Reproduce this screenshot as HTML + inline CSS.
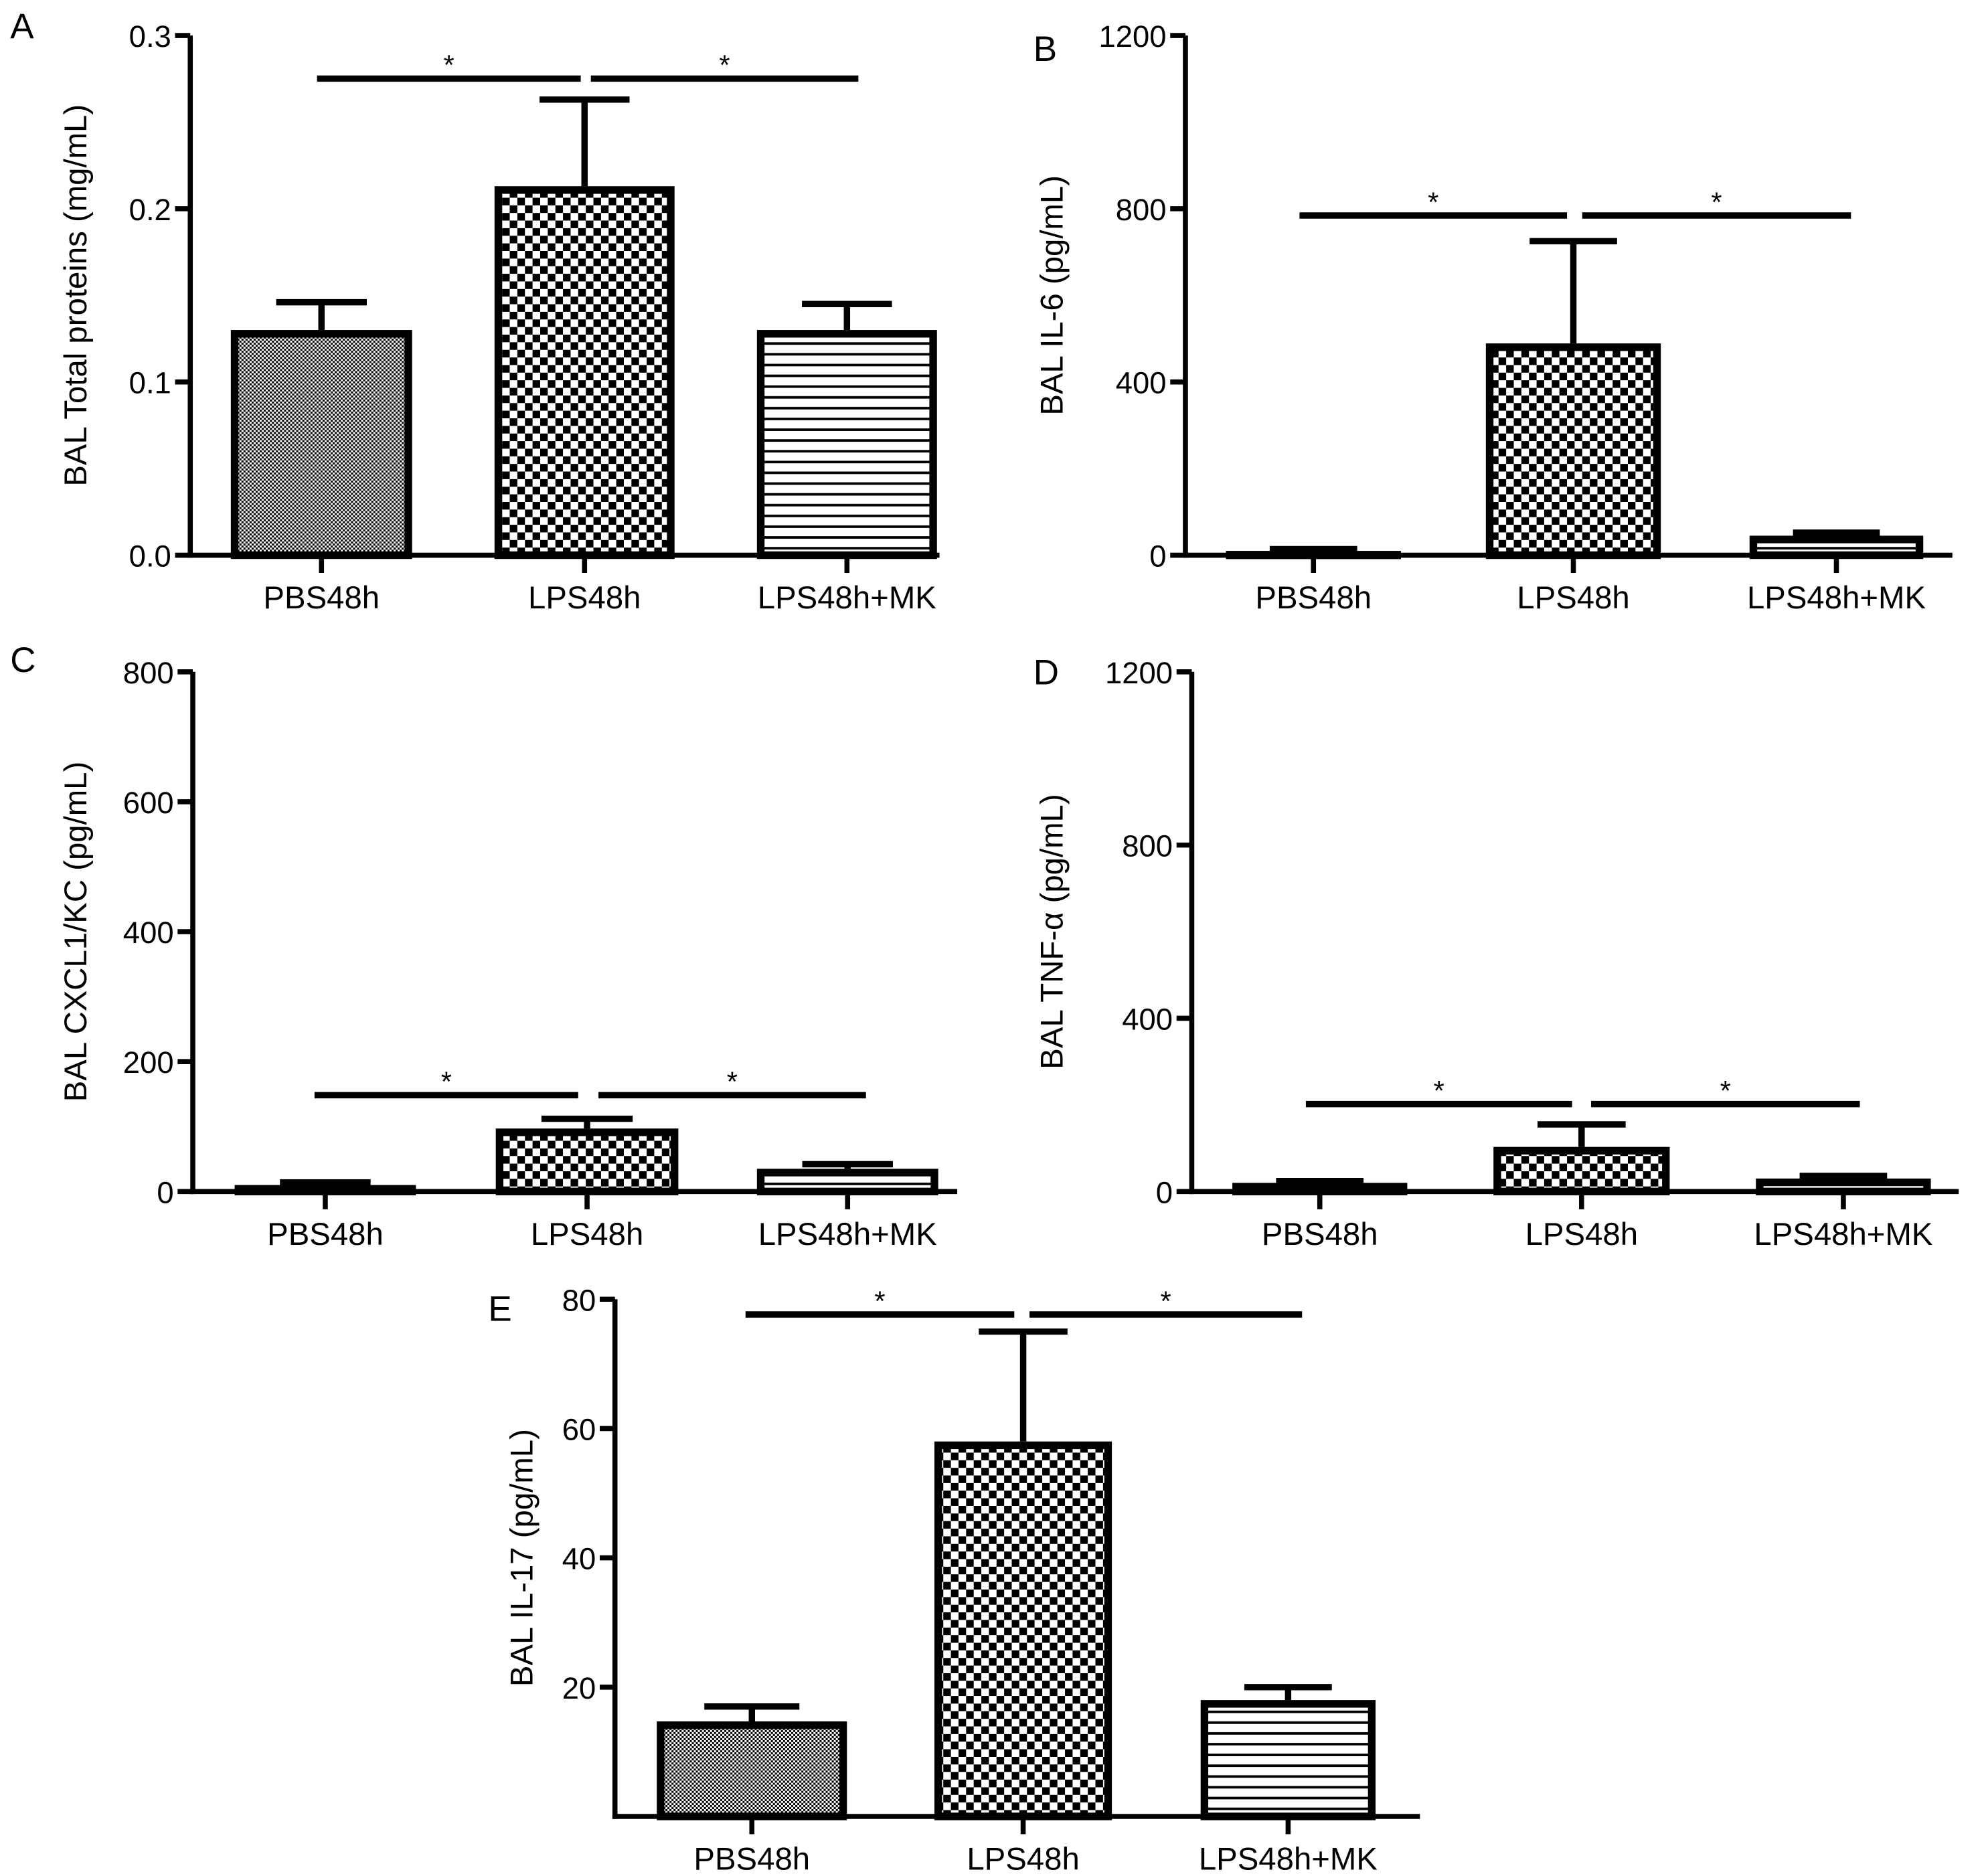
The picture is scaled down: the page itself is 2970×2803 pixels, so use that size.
<!DOCTYPE html>
<html><head><meta charset="utf-8"><style>
html,body{margin:0;padding:0;background:#fff;}
svg{display:block;font-family:"Liberation Sans",Arial,sans-serif;}
</style></head><body>
<svg id="fig" width="2970" height="2803" viewBox="0 0 1568 1480" xmlns="http://www.w3.org/2000/svg">
<defs>
<pattern id="pFine" width="3.2" height="3.2" patternUnits="userSpaceOnUse"><rect width="3.2" height="3.2" fill="#fff"/><rect width="1.6" height="1.6" fill="#000"/><rect x="1.6" y="1.6" width="1.6" height="1.6" fill="#000"/></pattern>
<pattern id="pCheck" width="12" height="12" patternUnits="userSpaceOnUse"><rect width="12" height="12" fill="#fff"/><rect width="6" height="6" fill="#000"/><rect x="6" y="6" width="6" height="6" fill="#000"/></pattern>
<pattern id="pLines" width="8.5" height="8.5" patternUnits="userSpaceOnUse"><rect width="8.5" height="8.5" fill="#fff"/><rect y="6.5" width="8.5" height="2" fill="#000"/></pattern>
</defs>
</svg>
<script>
var categories = ["PBS48h","LPS48h","LPS48h+MK"];
var valuesA = [0.13, 0.213, 0.13];
var errorsA = [0.146, 0.263, 0.145];
var ticksA = [0, 0.1, 0.2, 0.3];
var tickLabelsA = ["0.0","0.1","0.2","0.3"];
var valuesB = [10, 489, 45];
var errorsB = [14, 725, 52];
var ticksB = [0, 400, 800, 1200];
var valuesC = [10, 97, 35];
var errorsC = [14, 112, 42];
var ticksC = [0, 200, 400, 600, 800];
var valuesD = [20, 103, 30];
var errorsD = [24, 155, 36];
var ticksD = [0, 400, 800, 1200];
var valuesE = [14.7, 58, 18];
var errorsE = [17, 75, 20];
var ticksE = [20, 40, 60, 80];

var NS = "http://www.w3.org/2000/svg";
var svg = document.getElementById('fig');
function mk(tag, attrs, parent){var e=document.createElementNS(NS,tag);for(var k in attrs)e.setAttribute(k,attrs[k]);(parent||svg).appendChild(e);return e;}
var fills = ["url(#pFine)","url(#pCheck)","url(#pLines)"];

function panel(cfg){
  var g = mk('g',{});
  
  
  var y = function(v){return cfg.y0 - (v - 0)/(cfg.max) * (cfg.y0 - cfg.yTop);};
  // bars
  for (var i=0;i<categories.length;i++){
    var x0 = cfg.bars[i][0], x1 = cfg.bars[i][1], cx=(x0+x1)/2;
    var err = mk('line',{x1:cx,x2:cx,y1:y(cfg.vals[i]),y2:y(cfg.errs[i]),stroke:'#000','stroke-width':5},g);
    
    
    var cap = mk('line',{x1:cx-(x1-x0)*0.25,x2:cx+(x1-x0)*0.25,y1:y(cfg.errs[i]),y2:y(cfg.errs[i]),stroke:'#000','stroke-width':5},g);
    
    
    var top=y(cfg.vals[i]);
    var r = mk('rect',{x:x0+3,y:top+3,width:(x1-x0)-6,height:Math.max(cfg.y0-top-3,0.5),fill:fills[i],stroke:'#000','stroke-width':6},g);
    
    
    var tk = mk('line',{x1:cx,x2:cx,y1:cfg.y0,y2:cfg.y0+14,stroke:'#000','stroke-width':4},g);
    
    
    var lb = mk('text',{x:cx,y:cfg.y0+42,'text-anchor':'middle','font-size':25},g);
    lb.textContent = categories[i];
    
    
  }
  // axes
  var ya = mk('line',{x1:cfg.ax,x2:cfg.ax,y1:cfg.yTop,y2:cfg.y0+2,stroke:'#000','stroke-width':4},g);
  
  
  var xa = mk('line',{x1:cfg.ax-2,x2:cfg.xEnd,y1:cfg.y0,y2:cfg.y0,stroke:'#000','stroke-width':4},g);
  
  
  for (var j=0;j<cfg.ticks.length;j++){
    var tv=cfg.ticks[j], ty=y(tv);
    var t = mk('line',{x1:cfg.ax-12,x2:cfg.ax,y1:ty,y2:ty,stroke:'#000','stroke-width':4},g);
    
    
    var tl = mk('text',{x:cfg.ax-15,y:ty+9,'text-anchor':'end','font-size':24},g);
    tl.textContent = cfg.tickLabels ? cfg.tickLabels[j] : String(tv);
    
    
  }
  var yl = mk('text',{x:cfg.ylx,y:(cfg.y0+cfg.yTop)/2,'text-anchor':'middle','font-size':25,transform:'rotate(-90 '+cfg.ylx+' '+((cfg.y0+cfg.yTop)/2)+')'},g);
  yl.textContent = cfg.ylabel;
  
  
  var le = mk('text',{x:cfg.lx,y:cfg.ly,'font-size':28},g);
  le.textContent = cfg.letter;
  
  
  for (var k=0;k<2;k++){
    var s=cfg.sig[k];
    var sl = mk('line',{x1:s[0],x2:s[1],y1:cfg.sigY,y2:cfg.sigY,stroke:'#000','stroke-width':5},g);
    
    
    var st = mk('text',{x:(s[0]+s[1])/2,y:cfg.sigY-3,'text-anchor':'middle','font-size':22},g);
    st.textContent = '*';
    
    
  }
}

panel({letter:'A',lx:8,ly:30,ax:150,yTop:28,y0:438,max:0.3,xEnd:741,vals:valuesA,errs:errorsA,ticks:ticksA,tickLabels:tickLabelsA,
  bars:[[182,325],[390,532],[597,739]],ylx:68,ylabel:'BAL Total proteins (mg/mL)',sigY:62,sig:[[250,458],[466,677]]});
panel({letter:'B',lx:815,ly:48,ax:935,yTop:28,y0:438,max:1200,xEnd:1540,vals:valuesB,errs:errorsB,ticks:ticksB,
  bars:[[967,1105],[1172,1310],[1380,1517]],ylx:838,ylabel:'BAL IL-6 (pg/mL)',sigY:170,sig:[[1025,1236],[1248,1460]]});
panel({letter:'C',lx:8,ly:530,ax:152,yTop:530,y0:940,max:800,xEnd:755,vals:valuesC,errs:errorsC,ticks:ticksC,
  bars:[[185,328],[391,535],[597,740]],ylx:68,ylabel:'BAL CXCL1/KC (pg/mL)',sigY:864,sig:[[248,456],[472,683]]});
panel({letter:'D',lx:815,ly:540,ax:940,yTop:530,y0:940,max:1200,xEnd:1545,vals:valuesD,errs:errorsD,ticks:ticksD,
  bars:[[972,1110],[1178,1317],[1385,1523]],ylx:838,ylabel:'BAL TNF-\u03b1 (pg/mL)',sigY:871,sig:[[1030,1240],[1255,1467]]});
panel({letter:'E',lx:385,ly:1042,ax:485,yTop:1025,y0:1433,max:80,xEnd:1120,vals:valuesE,errs:errorsE,ticks:ticksE,
  bars:[[518,668],[737,877],[947,1085]],ylx:420,ylabel:'BAL IL-17 (pg/mL)',sigY:1037,sig:[[588,800],[812,1027]]});
</script>
</body></html>
